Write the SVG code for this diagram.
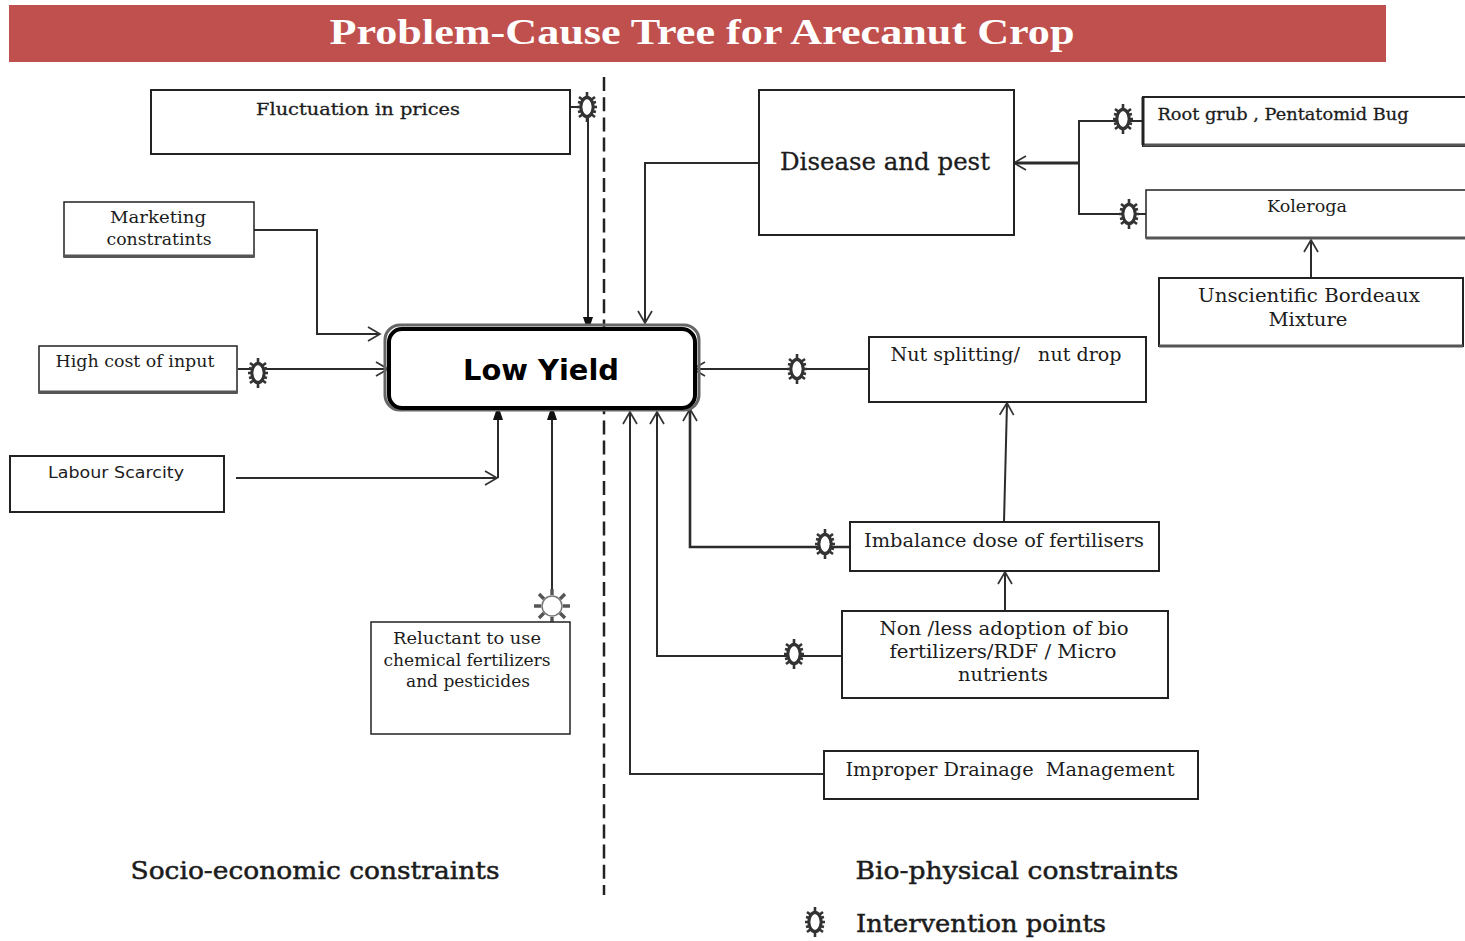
<svg xmlns="http://www.w3.org/2000/svg" width="1465" height="941" viewBox="0 0 1465 941">
<style>
text{font-family:"DejaVu Serif","Liberation Serif",serif;fill:#1c1c1c;text-anchor:middle;font-size:17px}
.b{fill:#fff;stroke:#222;stroke-width:2}
.c{fill:none;stroke:#2b2b2b;stroke-width:2}
.e{fill:none;stroke:#555;stroke-width:3}
.h{stroke:#1c1c1c;stroke-width:.5}
</style>
<defs>
<marker id="o" markerUnits="userSpaceOnUse" markerWidth="18" markerHeight="16" refX="15" refY="8" orient="auto"><path d="M3 1L15 8L3 15" fill="none" stroke="#333" stroke-width="1.7"/></marker>
<marker id="s" markerUnits="userSpaceOnUse" markerWidth="12" markerHeight="10" refX="10" refY="5" orient="auto"><path d="M1 0L10 3L10 7L1 10Z" fill="#111"/></marker>
<g id="sun"><ellipse rx="6" ry="9.5" fill="#fff" stroke="#333" stroke-width="3.4"/><path d="M0-15V-9M0 9V15M-10 0H-6M6 0H10M-8-10L-4-7M8-10L4-7M-8 10L-4 7M8 10L4 7M-9-5L-5-4M9-5L5-4M-9 5L-5 4M9 5L5 4" fill="none" stroke="#333" stroke-width="2.6"/><ellipse rx="4.5" ry="7.5" fill="#fff"/></g>
<g id="sunw"><path d="M0-17V-11M0 11V17M-18 0H-11M18 0H11M-13-12L-8-7M13-12L8-7M-13 12L-8 7M13 12L8 7" fill="none" stroke="#555" stroke-width="3.4"/><circle r="10" fill="#fff" stroke="#777" stroke-width="1.5"/></g>
</defs>
<g id="title"><rect x="9" y="5" width="1377" height="57" fill="#c0504d"/><text x="702" y="44" style="font-family:'Liberation Serif',serif;font-weight:700;fill:#fff;font-size:36px" textLength="745" lengthAdjust="spacingAndGlyphs">Problem-Cause Tree for Arecanut Crop</text></g>
<g id="divider"><path d="M604 77V895" fill="none" stroke="#222" stroke-width="2.5" stroke-dasharray="14 6.2"/></g>
<g id="connectors">
<path class="c" d="M571 107H580"/>
<path class="c" d="M588 118V326" stroke-width="2.5" marker-end="url(#s)"/>
<path class="c" d="M254 230H317V334H380" marker-end="url(#o)"/>
<path class="c" d="M238 369H388" marker-end="url(#o)"/>
<path class="c" d="M236 478H497" marker-end="url(#o)"/>
<path class="c" d="M498 478V411" marker-end="url(#s)"/>
<path class="c" d="M552 592V411" marker-end="url(#s)"/>
<path class="c" d="M759 163H645V323" marker-end="url(#o)"/>
<path class="c" d="M1079 163H1014" style="stroke-width:3.2" marker-end="url(#o)"/>
<path class="c" d="M1143 121H1079V214H1146"/>
<path class="c" d="M1311 278V240" marker-end="url(#o)"/>
<path class="c" d="M869 369H693" marker-end="url(#o)"/>
<path class="c" d="M1004 522L1007 403" marker-end="url(#o)"/>
<path class="c" d="M1005 611V572" marker-end="url(#o)"/>
<path class="c" d="M850 547H690V409" style="stroke-width:2.6" marker-end="url(#o)"/>
<path class="c" d="M842 656H657V412" marker-end="url(#o)"/>
<path class="c" d="M824 774H630V412" marker-end="url(#o)"/>
</g>
<g id="suns">
<use href="#sun" x="587" y="107"/><use href="#sun" x="258" y="373"/><use href="#sunw" x="552" y="606"/>
<use href="#sun" x="1123" y="119"/><use href="#sun" x="1129" y="214"/><use href="#sun" x="797" y="369"/>
<use href="#sun" x="825" y="544"/><use href="#sun" x="794" y="654"/><use href="#sun" x="815" y="922"/>
</g>
<g id="fluct"><rect class="b" x="151" y="90" width="419" height="64"/><text class="h" x="358" y="115" textLength="204" lengthAdjust="spacingAndGlyphs" style="stroke-width:.3">Fluctuation in prices</text></g>
<g id="market"><rect class="b" x="64" y="202" width="190" height="55" style="stroke-width:1.5"/><path class="e" d="M64 256H254"/><text x="158" y="223" textLength="96" lengthAdjust="spacingAndGlyphs">Marketing</text><text x="159" y="245" textLength="105" lengthAdjust="spacingAndGlyphs">constratints</text></g>
<g id="cost"><rect class="b" x="39" y="346" width="198" height="47" style="stroke-width:1.5"/><path class="e" d="M39 392H237"/><text x="135" y="367" textLength="159" lengthAdjust="spacingAndGlyphs">High cost of input</text></g>
<g id="labour"><rect class="b" x="10" y="456" width="214" height="56"/><text x="116" y="478" style="font-family:'DejaVu Sans',sans-serif;font-size:15px" textLength="136" lengthAdjust="spacingAndGlyphs">Labour Scarcity</text></g>
<g id="lowyield"><rect x="385" y="325" width="314" height="85" rx="15" fill="none" stroke="#666" stroke-width="3"/><rect x="389" y="329" width="306" height="79" rx="13" fill="#fff" stroke="#000" stroke-width="4"/><text x="541" y="380" style="font-family:'DejaVu Sans',sans-serif;font-weight:700;font-size:29px;fill:#000" textLength="156" lengthAdjust="spacingAndGlyphs">Low Yield</text></g>
<g id="reluct"><rect class="b" x="371" y="622" width="199" height="112" style="stroke-width:1.5"/><text x="467" y="644" textLength="148" lengthAdjust="spacingAndGlyphs">Reluctant to use</text><text x="467" y="666" textLength="167" lengthAdjust="spacingAndGlyphs">chemical fertilizers</text><text x="468" y="687" textLength="124" lengthAdjust="spacingAndGlyphs">and pesticides</text></g>
<g id="disease"><rect class="b" x="759" y="90" width="255" height="145"/><text class="h" x="885" y="170" style="font-size:25px;stroke-width:.3" textLength="210" lengthAdjust="spacingAndGlyphs">Disease and pest</text></g>
<g id="root"><rect class="b" x="1143" y="97" width="340" height="49"/><path class="e" d="M1143 145H1465"/><path d="M1143 97V145" stroke="#222" stroke-width="3"/><text class="h" x="1283" y="120" textLength="251" lengthAdjust="spacingAndGlyphs" style="stroke-width:.3">Root grub , Pentatomid Bug</text></g>
<g id="kole"><rect class="b" x="1146" y="190" width="340" height="48" style="stroke-width:1.5"/><path class="e" d="M1146 238H1465"/><text x="1307" y="212" textLength="80" lengthAdjust="spacingAndGlyphs">Koleroga</text></g>
<g id="unsci"><rect class="b" x="1159" y="278" width="304" height="68"/><path class="e" d="M1159 346H1463"/><text x="1309" y="302" style="font-size:19px" textLength="222" lengthAdjust="spacingAndGlyphs">Unscientific Bordeaux</text><text x="1308" y="326" style="font-size:19px" textLength="79" lengthAdjust="spacingAndGlyphs">Mixture</text></g>
<g id="nut"><rect class="b" x="869" y="337" width="277" height="65"/><text x="1006" y="361" style="font-size:19px" textLength="231" lengthAdjust="spacingAndGlyphs" xml:space="preserve">Nut splitting/   nut drop</text></g>
<g id="imbal"><rect class="b" x="850" y="522" width="309" height="49"/><text x="1004" y="547" style="font-size:19px" textLength="280" lengthAdjust="spacingAndGlyphs">Imbalance dose of fertilisers</text></g>
<g id="nonbio"><rect class="b" x="842" y="611" width="326" height="87"/><text x="1004" y="635" style="font-size:19px" textLength="249" lengthAdjust="spacingAndGlyphs">Non /less adoption of bio</text><text x="1003" y="658" style="font-size:19px" textLength="227" lengthAdjust="spacingAndGlyphs">fertilizers/RDF / Micro</text><text x="1003" y="681" style="font-size:19px" textLength="90" lengthAdjust="spacingAndGlyphs">nutrients</text></g>
<g id="drain"><rect class="b" x="824" y="751" width="374" height="48"/><text x="1010" y="776" style="font-size:19px" textLength="329" lengthAdjust="spacingAndGlyphs" xml:space="preserve">Improper Drainage  Management</text></g>
<g id="labels">
<text class="h" x="315" y="879" style="font-size:25px" textLength="369" lengthAdjust="spacingAndGlyphs">Socio-economic constraints</text>
<text class="h" x="1017" y="879" style="font-size:25px" textLength="323" lengthAdjust="spacingAndGlyphs">Bio-physical constraints</text>
<text class="h" x="981" y="932" style="font-size:25px" textLength="250" lengthAdjust="spacingAndGlyphs">Intervention points</text>
</g>
</svg>
